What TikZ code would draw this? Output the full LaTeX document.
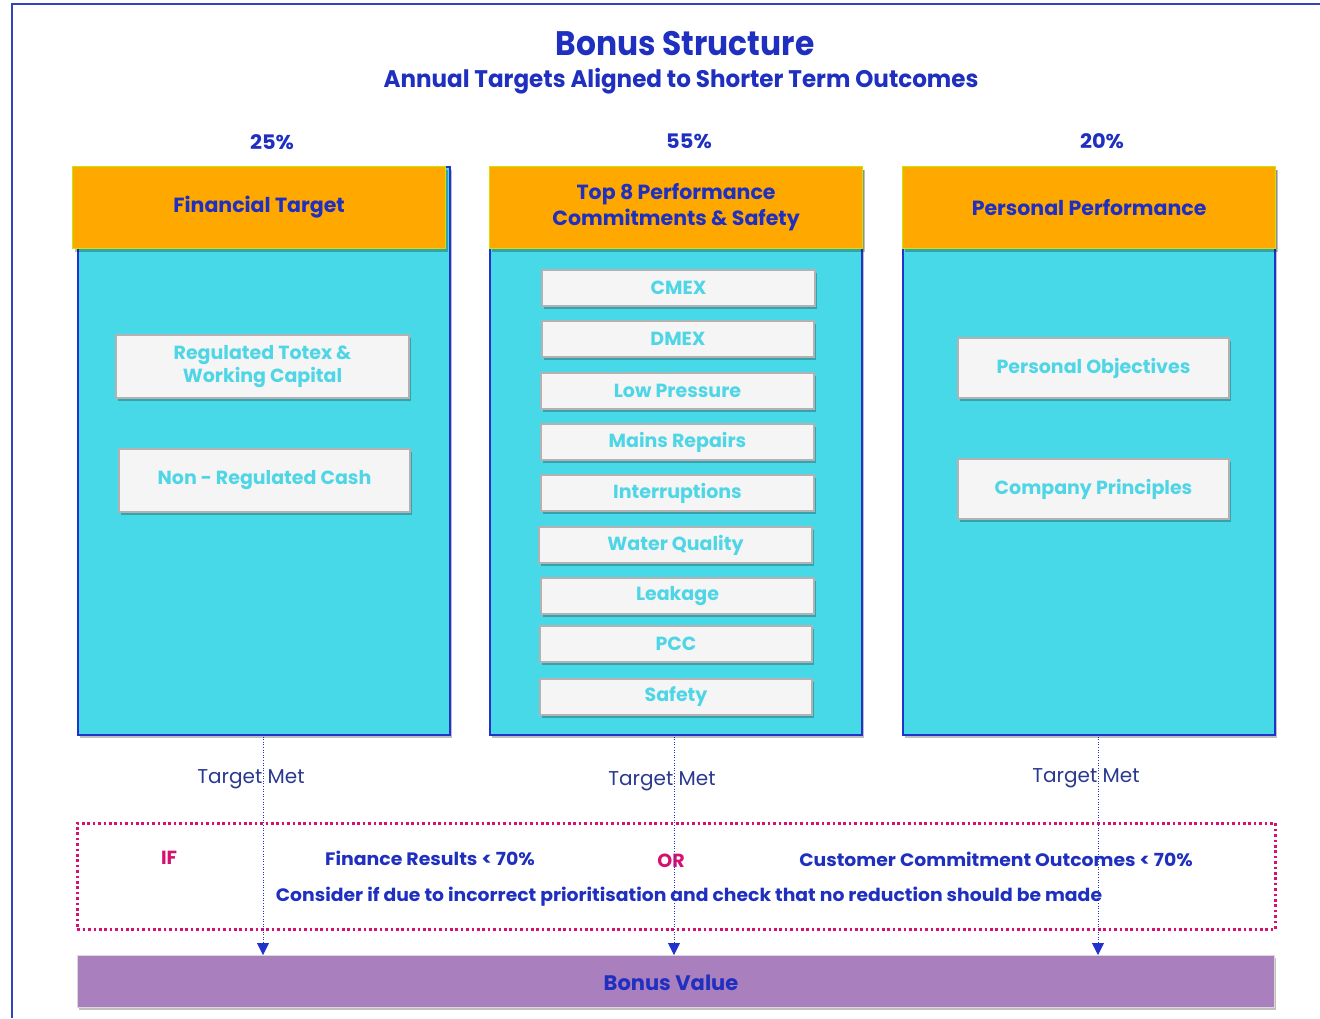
\documentclass[tikz,border=0pt]{standalone}
\usepackage{fontspec}
\setmainfont{Poppins}
\usetikzlibrary{shadows,arrows.meta}
\definecolor{cyanC}{HTML}{47D9E7}
\definecolor{orangeC}{HTML}{FFA800}
\definecolor{limeC}{HTML}{C8E600}
\definecolor{edgeB}{HTML}{2233CC}
\definecolor{txtB}{HTML}{1F2FBF}
\definecolor{wtxt}{HTML}{4FD6E6}
\definecolor{magC}{HTML}{D6106E}
\definecolor{purC}{HTML}{A97FBD}
\definecolor{navyT}{HTML}{2A3990}
\definecolor{frameB}{HTML}{3344B8}
\newcommand{\fs}[2]{\fontsize{#1}{#2}\selectfont}
\newcommand{\sx}[2]{\scalebox{#1}[1]{#2}}
\tikzset{
  shad/.style={drop shadow={shadow xshift=2pt,shadow yshift=-3pt,opacity=0.25,fill=black}},
  colbody/.style={fill=cyanC,draw=edgeB,line width=1.6pt,shad,minimum width=372,minimum height=568,anchor=north west,inner sep=0},
  colhead/.style={fill=orangeC,draw=limeC,line width=1.2pt,shad,minimum width=373,minimum height=82,anchor=north west,inner sep=0,text=txtB,font=\fs{20.5}{26}\bfseries,align=center},
  wbox/.style={fill=white!96!black,draw=black!30,line width=1.2pt,shad,inner sep=0,text=wtxt,font=\fs{19}{23}\bfseries,align=center},
  pct/.style={text=txtB,font=\fs{20}{24}\bfseries},
  tmet/.style={text=navyT,font=\fs{20}{24}},
  iftxt/.style={text=txtB,font=\fs{18}{22}\bfseries},
  magt/.style={text=magC,font=\fs{19}{22}\bfseries},
  dotarrow/.style={draw=edgeB,line width=0.8pt,dash pattern=on 0.8pt off 1.8pt,-{Triangle[width=12pt,length=12pt]}},
}
\begin{document}
\begin{tikzpicture}[x=1pt,y=-1pt]
\useasboundingbox (0,0) rectangle (1320,1018);
\fill[white] (0,0) rectangle (1320,1018);
\draw[frameB,line width=1.5pt] (12,1018) -- (12,4) -- (1320,4);
% titles
\node[text=txtB,font=\fs{34}{40}\bfseries] (title) at (685,44) {\sx{0.92}{Bonus Structure}};
\node[text=txtB,font=\fs{24}{28}\bfseries] (sub) at (681,81) {\sx{0.96}{Annual Targets Aligned to Shorter Term Outcomes}};
\node[pct] (p1) at (272,142) {\sx{1.05}{25\%}};
\node[pct] (p2) at (689,141) {\sx{1.05}{55\%}};
\node[pct] (p3) at (1102,141) {\sx{1.05}{20\%}};
% columns
\node[colbody] (c1) at (77,166) {};
\node[colbody] (c2) at (489,166) {};
\node[colbody] (c3) at (902,166) {};
\node[colhead] (h1) at (72,166) {Financial Target};
\node[colhead] (h2) at (489,166) {Top 8 Performance\\Commitments \& Safety};
\node[colhead] (h3) at (902,166) {Personal Performance};
% column 1 boxes
\node[wbox,minimum width=293,minimum height=63] (reg) at (262.5,366.5) {Regulated Totex \&\\Working Capital};
\node[wbox,minimum width=291,minimum height=63] (nonreg) at (264.5,480.5) {Non - Regulated Cash};
% column 2 boxes
\node[wbox,minimum width=273,minimum height=36] (cmex) at (678.5,288) {CMEX};
\node[wbox,minimum width=272,minimum height=36] (dmex) at (678,339) {DMEX};
\node[wbox,minimum width=273,minimum height=36] (lowp) at (677.5,391) {Low Pressure};
\node[wbox,minimum width=273,minimum height=36] (mains) at (677.5,442) {Mains Repairs};
\node[wbox,minimum width=273,minimum height=36] (intr) at (677.5,493) {Interruptions};
\node[wbox,minimum width=273,minimum height=36] (wq) at (675.5,545) {Water Quality};
\node[wbox,minimum width=273,minimum height=36] (leak) at (677.5,596) {Leakage};
\node[wbox,minimum width=272,minimum height=36] (pcc) at (676,644) {PCC};
\node[wbox,minimum width=272,minimum height=36] (safe) at (676,697) {Safety};
% column 3 boxes
\node[wbox,minimum width=271,minimum height=60] (pobj) at (1093.5,368) {Personal Objectives};
\node[wbox,minimum width=271,minimum height=60] (cpri) at (1093.5,489) {Company Principles};
% condition box
\node[draw=magC,line width=2.6pt,dash pattern=on 2.6pt off 2.8pt,minimum width=1198,minimum height=106,anchor=north west,inner sep=0] (cond) at (76,822) {};
\node[magt] (if) at (169,858) {IF};
\node[iftxt] (fin) at (430,858) {\sx{1.05}{Finance Results < 70\%}};
\node[magt] (or) at (671,861) {OR};
\node[iftxt] (cust) at (996,859) {\sx{1.045}{Customer Commitment Outcomes < 70\%}};
\node[iftxt] (cons) at (689,897) {\sx{1.044}{Consider if due to incorrect prioritisation and check that no reduction should be made}};
% bonus bar
\node[fill=purC,draw=black!15,line width=0.8pt,shad,minimum width=1197,minimum height=52,anchor=north west,inner sep=0] (bonus) at (77,955) {};
\node[text=txtB,font=\fs{21}{25}\bfseries] (bv) at (671,983) {Bonus Value};
% target met labels
\node[tmet] (t1) at (251,779) {Target Met};
\node[tmet] (t2) at (662,781) {Target Met};
\node[tmet] (t3) at (1086,778) {Target Met};
% arrows
\coordinate (a1) at (263,734);
\coordinate (a2) at (674,734);
\coordinate (a3) at (1098,734);
\draw[dotarrow] (a1) -- (a1 |- bonus.north);
\draw[dotarrow] (a2) -- (a2 |- bonus.north);
\draw[dotarrow] (a3) -- (a3 |- bonus.north);
\end{tikzpicture}
\end{document}
